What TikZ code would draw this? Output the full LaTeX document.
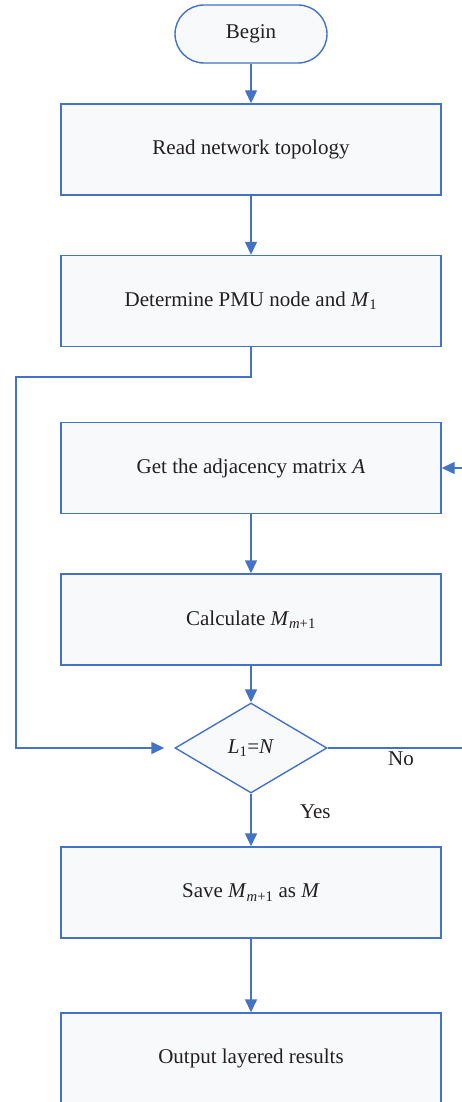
\documentclass[tikz,border=0pt]{standalone}
\usepackage{fontspec}
\setmainfont{Liberation Serif}
\usepackage{tikz}
\usetikzlibrary{shapes.geometric, positioning, arrows.meta}
\definecolor{FlowBlue}{RGB}{68,114,196}
\definecolor{FlowFill}{RGB}{248,249,251}
\definecolor{FlowText}{RGB}{35,31,32}
\newcommand{\flowfont}{\fontsize{21}{25}\selectfont}
\begin{document}
\begin{tikzpicture}[x=1pt, y=-1pt,
          block/.style={rectangle, draw=FlowBlue, fill=FlowFill, line width=1.4pt,
                        minimum width=380pt, minimum height=91pt,
                        font=\flowfont, text=FlowText, align=center},
          term/.style={block, rounded corners=29pt,
                       minimum width=152pt, minimum height=58pt},
          decide/.style={diamond, draw=FlowBlue, fill=FlowFill, line width=1.4pt,
                         minimum width=152pt, minimum height=90pt, inner sep=0pt,
                         aspect=1.7, font=\flowfont, text=FlowText},
          arr/.style={-{Triangle[length=13pt, width=12pt]}, line width=1.4pt, FlowBlue},
          lbl/.style={font=\flowfont, text=FlowText}
        ]
        \useasboundingbox (0,0) rectangle (462,1102);

        \node[term]   (begin) at (251,  34)   {Begin};
        \node[block]  (read)  at (251, 149.5) {Read network topology};
        \node[block]  (pmu)   at (251, 301)   {Determine PMU node and \textit{M}\textsubscript{1}};
        \node[block]  (adj)   at (251, 468)   {Get the adjacency matrix \textit{A}};
        \node[block]  (calc)  at (251, 619.5) {Calculate \textit{M}\textsubscript{\textit{m}+1}};
        \node[decide] (cond)  at (251, 748)   {\textit{L}\textsubscript{1}=\textit{N}};
        \node[block]  (save)  at (251, 892.5) {Save \textit{M}\textsubscript{\textit{m}+1} as \textit{M}};
        \node[block]  (out)   at (251, 1058.5) {Output layered results};

        \coordinate (loopL) at (16, 377);
        \coordinate (noR)   at (466, 748);

        % Main flow
        \draw[arr] (begin) -- (read);
        \draw[arr] (read) -- (pmu);
        \draw[arr] (adj) -- (calc);
        \draw[arr] (calc) -- (cond);
        \draw[arr] (cond) -- node[lbl, right=45pt, pos=0.35]{Yes} (save);
        \draw[arr] (save) -- (out);

        % Loops
        \draw[arr, shorten >=10pt] (pmu.south) |- (loopL) |- (cond.west);
        \draw[arr] (cond.east) -- node[lbl, below, pos=0.53]{No} (noR) |- (adj.east);
      \end{tikzpicture}
\end{document}
